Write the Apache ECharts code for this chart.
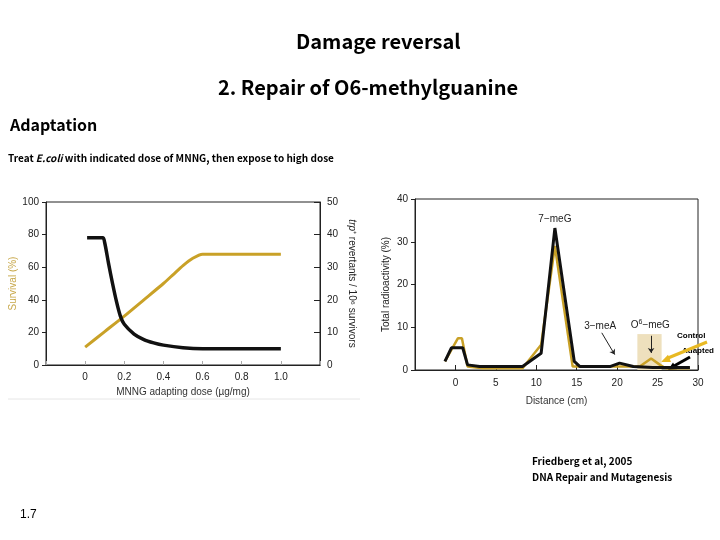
<!DOCTYPE html>
<html>
<head>
<meta charset="utf-8">
<script src="https://cdn.jsdelivr.net/npm/echarts@6/dist/echarts.min.js"></script>
<style>
  html, body { margin: 0; padding: 0; background: #fff; }
  #main { width: 720px; height: 540px; }
</style>
</head>
<body>
<div id="main"></div>
<script>
// left panel: survival (%) and trp+ revertants vs MNNG adapting dose
var survival = [[0, 11], [0.1, 20.5], [0.2, 30], [0.3, 40], [0.4, 50], [0.45, 55.5], [0.5, 61], [0.55, 65.5], [0.6, 68], [1.0, 68]];
var revertants = [[0.01, 39], [0.09, 39], [0.1, 37.5], [0.12, 31], [0.14, 25], [0.16, 19.5], [0.18, 15], [0.2, 12.5], [0.25, 9.5], [0.3, 7.8], [0.35, 6.8], [0.4, 6.1], [0.5, 5.3], [0.6, 5], [1.0, 5]];

// right panel: total radioactivity (%) vs distance (cm)
var distControl = [[-1.3, 2], [0.3, 7.4], [0.8, 7.4], [1.5, 0.8], [3.4, 0.4], [8.3, 0.4], [10.6, 5.9], [12.3, 29], [14.5, 0.8], [22.8, 0.8], [24.2, 2.7], [25.3, 1.2], [26, 0.4], [29, 0.4]];
var distAdapted = [[-1.3, 2], [-0.5, 5.2], [0.9, 5.2], [1.5, 1.2], [3, 0.8], [8.3, 0.8], [10.6, 3.9], [12.3, 33.2], [14.7, 2], [15.4, 0.8], [19.1, 0.8], [20.3, 1.6], [22, 0.8], [24.4, 0.6], [29, 0.6]];
var o6Band = [22.5, 25.5, 8.4];
var peakLabels = [
  {name: '7−meG', coord: [12.3, 35.3]},
  {name: '3−meA', coord: [17.9, 10.2]},
  {name: '{n|O}{s|6}{n|−meG}', coord: [24.1, 10.4]}
];
var peakArrows = [
  [[18.1, 8.7], [19.7, 3.6]],
  [[24.2, 8.0], [24.2, 4.0]]
];

var gold = '#c9a127';
var ink = '#111';
var axisFont = 'Liberation Sans, Arial, sans-serif';
var slideFont = 'Noto Sans CJK JP, sans-serif';

var myChart = echarts.init(document.getElementById('main'));

var option = {
  animation: false,
  backgroundColor: '#fff',
  textStyle: {fontFamily: axisFont},
  grid: [
    {left: 46, top: 202, width: 274, height: 163, show: true, borderColor: '#222', borderWidth: 1},
    {left: 415, top: 199, width: 283, height: 171, show: true, borderColor: '#222', borderWidth: 1}
  ],
  xAxis: [
    {
      type: 'value', gridIndex: 0, min: -0.2, max: 1.2, interval: 0.2,
      name: 'MNNG adapting dose (µg/mg)', nameLocation: 'middle', nameGap: 22,
      nameTextStyle: {fontSize: 10, color: '#333'},
      axisLine: {onZero: false, lineStyle: {color: '#222'}},
      axisTick: {show: true, inside: true, length: 4, lineStyle: {color: '#aaa'}},
      axisLabel: {
        fontSize: 10, color: '#222', margin: 7,
        formatter: function (v) {
          if (v < -0.01 || v > 1.01) return '';
          return v === 0 ? '0' : v.toFixed(1);
        }
      },
      splitLine: {show: false}
    },
    {
      type: 'value', gridIndex: 1, min: -5, max: 30, interval: 5,
      name: 'Distance (cm)', nameLocation: 'middle', nameGap: 26,
      nameTextStyle: {fontSize: 10, color: '#333'},
      axisLine: {onZero: false, lineStyle: {color: '#222'}},
      axisTick: {show: true, inside: true, length: 5, lineStyle: {color: '#222'}},
      axisLabel: {
        fontSize: 10, color: '#222', margin: 8,
        formatter: function (v) { return v < 0 ? '' : String(v); }
      },
      splitLine: {show: false}
    }
  ],
  yAxis: [
    {
      type: 'value', gridIndex: 0, min: 0, max: 100, interval: 20,
      name: 'Survival (%)', nameLocation: 'middle', nameGap: 25,
      nameTextStyle: {fontSize: 10, color: '#c8a84a'},
      axisLine: {show: true, onZero: false, lineStyle: {color: '#222'}},
      axisTick: {show: true, length: 4, lineStyle: {color: '#222'}},
      axisLabel: {fontSize: 10, color: '#222', margin: 7},
      splitLine: {show: false}
    },
    {
      type: 'value', gridIndex: 0, position: 'right', min: 0, max: 50, interval: 10,
      name: '{i|trp}⁺ revertants / 10⁶ survivors', nameLocation: 'middle', nameGap: 27, nameRotate: -90,
      nameTextStyle: {fontSize: 10, color: '#222', rich: {i: {fontStyle: 'italic', fontSize: 10, color: '#222'}}},
      axisLine: {show: true, onZero: false, lineStyle: {color: '#222'}},
      axisTick: {show: true, inside: true, length: 6, lineStyle: {color: '#222'}},
      axisLabel: {fontSize: 10, color: '#222', margin: 7},
      splitLine: {show: false}
    },
    {
      type: 'value', gridIndex: 1, min: 0, max: 40, interval: 10,
      name: 'Total radioactivity (%)', nameLocation: 'middle', nameGap: 24,
      nameTextStyle: {fontSize: 10, color: '#222'},
      axisLine: {show: true, onZero: false, lineStyle: {color: '#222'}},
      axisTick: {show: true, length: 4, lineStyle: {color: '#222'}},
      axisLabel: {fontSize: 10, color: '#222', margin: 7},
      splitLine: {show: false}
    }
  ],
  series: [
    {
      name: 'Survival', type: 'line', xAxisIndex: 0, yAxisIndex: 0,
      data: survival, symbol: 'none', smooth: 0.2,
      lineStyle: {color: gold, width: 3}
    },
    {
      name: 'Revertants', type: 'line', xAxisIndex: 0, yAxisIndex: 1,
      data: revertants, symbol: 'none', smooth: 0.3,
      lineStyle: {color: ink, width: 3.5, cap: 'butt'}
    },
    {
      name: 'Control', type: 'line', xAxisIndex: 1, yAxisIndex: 2,
      data: distControl, symbol: 'none',
      lineStyle: {color: gold, width: 2.5},
      markArea: {
        silent: true,
        itemStyle: {color: '#eee0bd'},
        data: [[{coord: [o6Band[0], 0]}, {coord: [o6Band[1], o6Band[2]]}]]
      }
    },
    {
      name: 'Adapted', type: 'line', xAxisIndex: 1, yAxisIndex: 2,
      data: distAdapted, symbol: 'none',
      lineStyle: {color: ink, width: 3},
      markLine: {
        silent: true,
        symbol: ['none', 'arrow'], symbolSize: 5,
        label: {show: false},
        lineStyle: {color: '#222', width: 1, type: 'solid'},
        data: peakArrows.map(function (a) {
          return [{coord: a[0]}, {coord: a[1]}];
        })
      },
      markPoint: {
        silent: true,
        symbol: 'circle', symbolSize: 1,
        itemStyle: {color: 'rgba(0,0,0,0)'},
        label: {
          show: true, position: 'inside', fontSize: 10, color: '#222',
          formatter: function (p) { return p.name; },
          rich: {n: {fontSize: 10, color: '#222'}, s: {fontSize: 7, color: '#222', verticalAlign: 'top', padding: [0, 0, 6, 0]}}
        },
        data: peakLabels
      }
    }
  ],
  graphic: [
    {type: 'text', left: 296, top: 31, style: {text: 'Damage reversal', font: 'bold 20px ' + slideFont, fill: '#000'}},
    {type: 'text', left: 218, top: 77, style: {text: '2. Repair of O6-methylguanine', font: 'bold 20px ' + slideFont, fill: '#000'}},
    {type: 'text', left: 10, top: 117, style: {text: 'Adaptation', font: 'bold 16px ' + slideFont, fill: '#000'}},
    {type: 'text', left: 8, top: 153, style: {
      text: 'Treat {i|E.coli} with indicated dose of MNNG, then expose to high dose',
      font: 'bold 10px ' + slideFont, fill: '#000',
      rich: {i: {fontStyle: 'italic', fontWeight: 'bold', fontSize: 10, fontFamily: slideFont}}
    }},
    {type: 'line', shape: {x1: 8, y1: 399, x2: 360, y2: 399}, style: {stroke: '#e6e6e6', lineWidth: 1}},
    {type: 'text', left: 532, top: 453, style: {text: 'Friedberg et al, 2005\nDNA Repair and Mutagenesis', font: 'bold 10px ' + slideFont, lineHeight: 16, fill: '#000'}},
    {type: 'text', left: 20, top: 509, style: {text: '1.7', font: '12px ' + axisFont, fill: '#000'}},
    // Control / Adapted key with arrows
    {type: 'text', left: 677, top: 332, style: {text: 'Control', font: 'bold 8px ' + axisFont, fill: '#000'}},
    {type: 'text', left: 682, top: 347, style: {text: 'Adapted', font: 'bold 8px ' + axisFont, fill: '#000'}},
    {type: 'line', shape: {x1: 707, y1: 342, x2: 668, y2: 358}, style: {stroke: '#e8b923', lineWidth: 3}},
    {type: 'polygon', shape: {points: [[661, 362], [671, 362], [668, 354.7]]}, style: {fill: '#e8b923'}},
    {type: 'line', shape: {x1: 690, y1: 357, x2: 674, y2: 366}, style: {stroke: '#000', lineWidth: 3}},
    {type: 'polygon', shape: {points: [[668, 370], [677, 369.3], [673, 362.5]]}, style: {fill: '#000'}}
  ]
};

myChart.setOption(option);
</script>
</body>
</html>
